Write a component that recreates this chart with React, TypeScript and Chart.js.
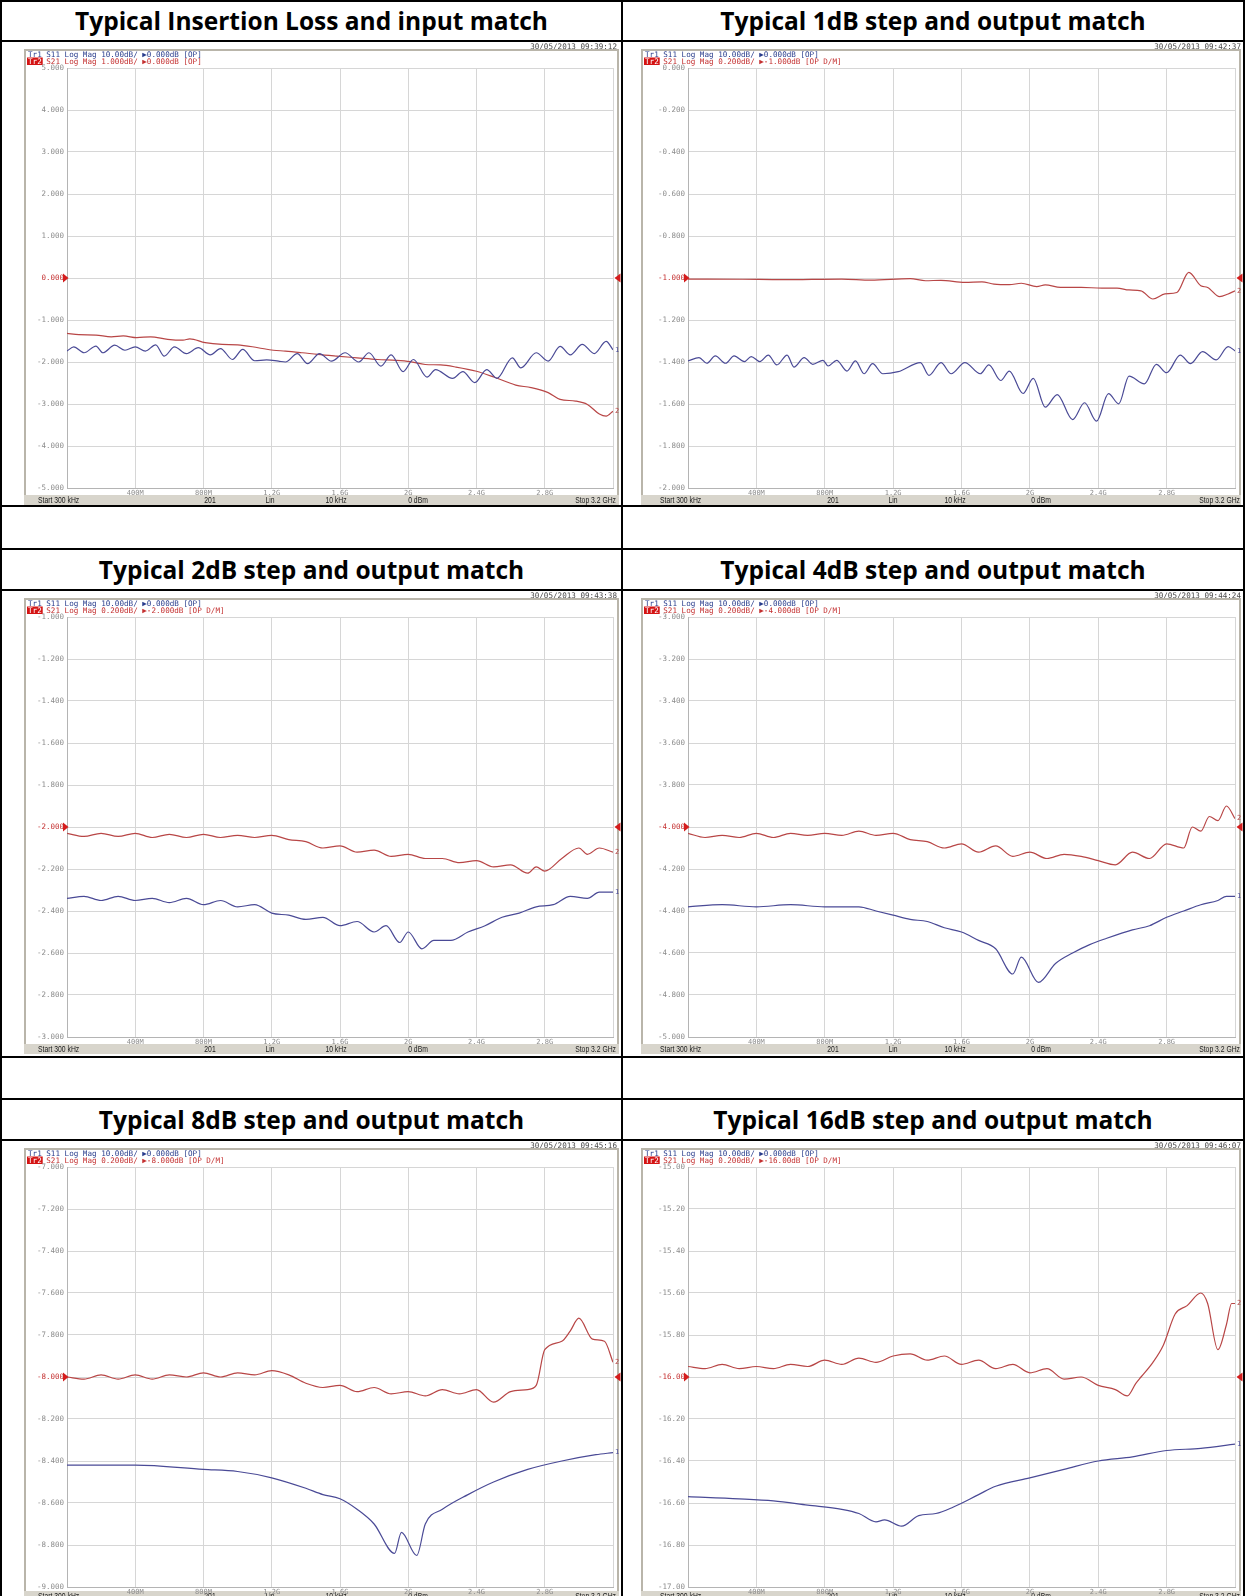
import React, { useEffect, useRef } from "react";
import { Chart, registerables } from "chart.js";

Chart.register(...registerables);

// ---------------- shared axis / text data ----------------
const START_GHZ = 0.0003;
const STOP_GHZ = 3.2;
const xTickLabels = ["", "400M", "800M", "1.2G", "1.6G", "2G", "2.4G", "2.8G", ""];
const statusLabels = ["Start 300 kHz", "201", "Lin", "10 kHz", "0 dBm", "Stop 3.2 GHz"];
const titles = [
  "Typical Insertion Loss and input match",
  "Typical 1dB step and output match",
  "Typical 2dB step and output match",
  "Typical 4dB step and output match",
  "Typical 8dB step and output match",
  "Typical 16dB step and output match",
];
const stamps = [
  "30/05/2013 09:39:12",
  "30/05/2013 09:42:37",
  "30/05/2013 09:43:38",
  "30/05/2013 09:44:24",
  "30/05/2013 09:45:16",
  "30/05/2013 09:46:07",
];
const tr1Header = "S11 Log Mag 10.00dB/ \u25B60.000dB [OP]";
const tr2Headers = [
  "S21 Log Mag 1.000dB/ \u25B60.000dB [OP]",
  "S21 Log Mag 0.200dB/ \u25B6-1.000dB [OP D/M]",
  "S21 Log Mag 0.200dB/ \u25B6-2.000dB [OP D/M]",
  "S21 Log Mag 0.200dB/ \u25B6-4.000dB [OP D/M]",
  "S21 Log Mag 0.200dB/ \u25B6-8.000dB [OP D/M]",
  "S21 Log Mag 0.200dB/ \u25B6-16.00dB [OP D/M]",
];
const refLevels = [0, -1, -2, -4, -8, -16];

const il_yLabels = ["5.000", "4.000", "3.000", "2.000", "1.000", "0.000", "-1.000", "-2.000", "-3.000", "-4.000", "-5.000"];
const s1_yLabels = ["0.000", "-0.200", "-0.400", "-0.600", "-0.800", "-1.000", "-1.200", "-1.400", "-1.600", "-1.800", "-2.000"];
const s2_yLabels = ["-1.000", "-1.200", "-1.400", "-1.600", "-1.800", "-2.000", "-2.200", "-2.400", "-2.600", "-2.800", "-3.000"];
const s4_yLabels = ["-3.000", "-3.200", "-3.400", "-3.600", "-3.800", "-4.000", "-4.200", "-4.400", "-4.600", "-4.800", "-5.000"];
const s8_yLabels = ["-7.000", "-7.200", "-7.400", "-7.600", "-7.800", "-8.000", "-8.200", "-8.400", "-8.600", "-8.800", "-9.000"];
const s16_yLabels = ["-15.00", "-15.20", "-15.40", "-15.60", "-15.80", "-16.00", "-16.20", "-16.40", "-16.60", "-16.80", "-17.00"];

// ---------------- trace data (GHz, dB) ----------------
const il_s11_f = [0.0003, 0.04, 0.10, 0.17, 0.21, 0.28, 0.34, 0.40, 0.46, 0.52, 0.57, 0.63, 0.70, 0.77, 0.84, 0.90, 0.97, 1.03, 1.10, 1.17, 1.24, 1.28, 1.35, 1.41, 1.48, 1.55, 1.63, 1.71, 1.77, 1.84, 1.90, 1.97, 2.03, 2.11, 2.16, 2.26, 2.32, 2.39, 2.46, 2.52, 2.61, 2.66, 2.75, 2.82, 2.89, 2.95, 3.02, 3.09, 3.16, 3.2];
const il_s11_db = [-1.74, -1.64, -1.78, -1.62, -1.78, -1.60, -1.72, -1.64, -1.74, -1.59, -1.86, -1.64, -1.80, -1.66, -1.83, -1.68, -1.94, -1.70, -1.97, -1.95, -1.98, -2.00, -1.80, -2.04, -1.80, -1.98, -1.78, -2.00, -1.78, -2.10, -1.83, -2.23, -1.94, -2.36, -2.18, -2.39, -2.23, -2.49, -2.18, -2.39, -1.90, -2.14, -1.78, -1.98, -1.63, -1.83, -1.58, -1.80, -1.51, -1.71];
const il_s21_f = [0.0003, 0.07, 0.17, 0.26, 0.33, 0.41, 0.49, 0.59, 0.68, 0.72, 0.81, 0.91, 1.00, 1.12, 1.21, 1.28, 1.38, 1.47, 1.58, 1.70, 1.82, 1.93, 2.01, 2.10, 2.19, 2.28, 2.40, 2.51, 2.63, 2.72, 2.82, 2.89, 2.98, 3.05, 3.12, 3.16, 3.2];
const il_s21_db = [-1.32, -1.35, -1.36, -1.40, -1.38, -1.42, -1.40, -1.46, -1.48, -1.45, -1.54, -1.58, -1.59, -1.66, -1.72, -1.74, -1.78, -1.82, -1.86, -1.90, -1.94, -1.96, -1.99, -2.06, -2.07, -2.12, -2.22, -2.37, -2.55, -2.61, -2.73, -2.89, -2.93, -3.01, -3.24, -3.29, -3.17];

const s1_s11_f = [0.0003, 0.065, 0.11, 0.16, 0.22, 0.27, 0.33, 0.37, 0.42, 0.47, 0.52, 0.58, 0.62, 0.68, 0.73, 0.79, 0.82, 0.87, 0.93, 0.98, 1.03, 1.08, 1.14, 1.23, 1.36, 1.41, 1.48, 1.54, 1.62, 1.71, 1.76, 1.83, 1.88, 1.96, 2.02, 2.09, 2.16, 2.25, 2.32, 2.39, 2.46, 2.52, 2.58, 2.67, 2.74, 2.80, 2.88, 2.94, 3.01, 3.09, 3.16, 3.2];
const s1_s11_db = [-1.395, -1.379, -1.406, -1.371, -1.406, -1.371, -1.398, -1.374, -1.398, -1.367, -1.414, -1.367, -1.424, -1.379, -1.411, -1.392, -1.419, -1.392, -1.443, -1.395, -1.456, -1.408, -1.456, -1.446, -1.403, -1.464, -1.403, -1.456, -1.403, -1.456, -1.414, -1.488, -1.443, -1.550, -1.478, -1.615, -1.555, -1.674, -1.594, -1.682, -1.551, -1.599, -1.467, -1.504, -1.411, -1.451, -1.367, -1.408, -1.351, -1.390, -1.327, -1.347];
const s1_s21_f = [0.0003, 0.32, 0.55, 0.90, 1.07, 1.30, 1.39, 1.48, 1.62, 1.72, 1.79, 1.88, 1.95, 2.04, 2.09, 2.18, 2.30, 2.42, 2.51, 2.58, 2.65, 2.72, 2.79, 2.86, 2.93, 3.00, 3.04, 3.11, 3.16, 3.2];
const s1_s21_db = [-1.005, -1.006, -1.008, -1.005, -1.010, -1.003, -1.013, -1.011, -1.021, -1.018, -1.029, -1.032, -1.025, -1.041, -1.033, -1.045, -1.045, -1.048, -1.048, -1.057, -1.061, -1.100, -1.076, -1.069, -0.973, -1.037, -1.045, -1.089, -1.076, -1.061];

const s2_s11_f = [0.0003, 0.1, 0.2, 0.3, 0.4, 0.5, 0.6, 0.7, 0.8, 0.9, 1.0, 1.1, 1.2, 1.3, 1.4, 1.5, 1.6, 1.7, 1.8, 1.87, 1.95, 2.0, 2.08, 2.15, 2.25, 2.35, 2.45, 2.55, 2.65, 2.75, 2.85, 2.95, 3.05, 3.12, 3.2];
const s2_s11_db = [-2.34, -2.33, -2.35, -2.33, -2.35, -2.34, -2.36, -2.34, -2.37, -2.35, -2.38, -2.37, -2.41, -2.42, -2.44, -2.43, -2.47, -2.45, -2.50, -2.47, -2.55, -2.50, -2.58, -2.54, -2.54, -2.50, -2.47, -2.43, -2.41, -2.38, -2.37, -2.33, -2.34, -2.31, -2.31];
const s2_s21_f = [0.0003, 0.1, 0.2, 0.3, 0.4, 0.5, 0.6, 0.7, 0.8, 0.9, 1.0, 1.1, 1.2, 1.3, 1.4, 1.5, 1.6, 1.7, 1.8, 1.9, 2.0, 2.1, 2.2, 2.3, 2.4, 2.5, 2.6, 2.7, 2.75, 2.8, 2.9, 3.0, 3.05, 3.12, 3.2];
const s2_s21_db = [-2.03, -2.045, -2.03, -2.045, -2.03, -2.05, -2.035, -2.05, -2.035, -2.05, -2.04, -2.05, -2.04, -2.06, -2.07, -2.10, -2.09, -2.12, -2.11, -2.14, -2.13, -2.15, -2.15, -2.17, -2.16, -2.19, -2.18, -2.22, -2.19, -2.21, -2.15, -2.10, -2.13, -2.10, -2.12];

const s4_s11_f = [0.0003, 0.2, 0.4, 0.6, 0.8, 1.0, 1.1, 1.2, 1.3, 1.4, 1.5, 1.6, 1.7, 1.8, 1.9, 1.95, 2.05, 2.15, 2.25, 2.35, 2.45, 2.6, 2.7, 2.8, 2.9, 3.0, 3.1, 3.15, 3.2];
const s4_s11_db = [-4.38, -4.37, -4.38, -4.37, -4.38, -4.38, -4.40, -4.42, -4.44, -4.45, -4.48, -4.50, -4.54, -4.58, -4.70, -4.62, -4.74, -4.65, -4.60, -4.56, -4.53, -4.49, -4.47, -4.43, -4.40, -4.37, -4.35, -4.33, -4.33];
const s4_s21_f = [0.0003, 0.1, 0.2, 0.3, 0.4, 0.5, 0.6, 0.7, 0.8, 0.9, 1.0, 1.1, 1.2, 1.3, 1.4, 1.5, 1.6, 1.7, 1.8, 1.9, 2.0, 2.1, 2.2, 2.3, 2.4, 2.5, 2.6, 2.7, 2.8, 2.9, 2.95, 3.0, 3.05, 3.1, 3.15, 3.2];
const s4_s21_db = [-4.03, -4.05, -4.04, -4.05, -4.03, -4.05, -4.03, -4.04, -4.03, -4.04, -4.02, -4.04, -4.03, -4.06, -4.07, -4.10, -4.08, -4.12, -4.09, -4.14, -4.12, -4.15, -4.13, -4.14, -4.16, -4.18, -4.12, -4.15, -4.08, -4.10, -4.00, -4.02, -3.95, -3.97, -3.90, -3.96];

const s8_s11_f = [0.0003, 0.4, 0.8, 1.0, 1.2, 1.4, 1.5, 1.6, 1.7, 1.8, 1.92, 1.96, 2.05, 2.1, 2.2, 2.35, 2.5, 2.7, 2.9, 3.1, 3.2];
const s8_s11_db = [-8.42, -8.42, -8.44, -8.45, -8.48, -8.53, -8.56, -8.58, -8.63, -8.70, -8.84, -8.74, -8.85, -8.70, -8.63, -8.56, -8.50, -8.44, -8.40, -8.37, -8.36];
const s8_s21_f = [0.0003, 0.1, 0.2, 0.3, 0.4, 0.5, 0.6, 0.7, 0.8, 0.9, 1.0, 1.1, 1.2, 1.3, 1.4, 1.5, 1.6, 1.7, 1.8, 1.9, 2.0, 2.1, 2.2, 2.3, 2.4, 2.5, 2.6, 2.7, 2.75, 2.8, 2.9, 2.95, 3.0, 3.08, 3.15, 3.2];
const s8_s21_db = [-8.00, -8.01, -7.99, -8.01, -7.99, -8.01, -7.99, -8.00, -7.98, -8.00, -7.98, -7.99, -7.97, -7.99, -8.03, -8.05, -8.04, -8.07, -8.05, -8.08, -8.07, -8.09, -8.06, -8.08, -8.06, -8.12, -8.07, -8.06, -8.04, -7.87, -7.83, -7.78, -7.72, -7.82, -7.83, -7.93];

const s16_s11_f = [0.0003, 0.3, 0.5, 0.7, 0.9, 1.0, 1.1, 1.15, 1.25, 1.35, 1.45, 1.55, 1.7, 1.8, 2.0, 2.2, 2.4, 2.6, 2.8, 3.0, 3.2];
const s16_s11_db = [-16.57, -16.58, -16.59, -16.61, -16.63, -16.65, -16.69, -16.68, -16.71, -16.66, -16.65, -16.62, -16.56, -16.52, -16.48, -16.44, -16.40, -16.38, -16.35, -16.34, -16.32];
const s16_s21_f = [0.0003, 0.1, 0.2, 0.3, 0.4, 0.5, 0.6, 0.7, 0.8, 0.9, 1.0, 1.1, 1.2, 1.3, 1.4, 1.5, 1.6, 1.7, 1.8, 1.9, 2.0, 2.1, 2.2, 2.3, 2.4, 2.5, 2.57, 2.62, 2.65, 2.72, 2.78, 2.85, 2.92, 3.0, 3.04, 3.1, 3.15, 3.18, 3.2];
const s16_s21_db = [-15.95, -15.96, -15.94, -15.96, -15.95, -15.96, -15.94, -15.95, -15.92, -15.94, -15.91, -15.93, -15.90, -15.89, -15.92, -15.90, -15.94, -15.92, -15.96, -15.94, -15.98, -15.96, -16.01, -16.00, -16.04, -16.06, -16.09, -16.03, -16.00, -15.93, -15.85, -15.70, -15.66, -15.60, -15.65, -15.87, -15.75, -15.65, -15.65];

// ---------------- styling / layout ----------------
const BLUE = "#4a4a96";
const RED = "#b84646";
const HEAD_BLUE = "#283c8c";
const HEAD_RED = "#c43030";
const MARK_RED = "#d41c1c";
const TICK_GRAY = "#8c8c8c";
const GRID = "#d6d6d6";
const FRAME = "#b9b5aa";
const STATUS_BG = "#d8d5cc";
const MONO = '"DejaVu Sans Mono"';

const VLINES = [0, 621, 1243];
const HLINES = [0, 40, 505, 548, 589, 1056, 1098, 1139];
const LINE_W = 2;
const COLS = [
  { x: 2, w: 619 },
  { x: 623, w: 620 },
];
const TITLE_ROWS = [
  { y: 2, h: 38 },
  { y: 550, h: 39 },
  { y: 1100, h: 39 },
];
const CHART_ROWS = [42, 591, 1141];
const STATUS_TOPS = [453, 453, 450];
const CHART_H = 464;

const COLGEOM = [
  { frameL: 23, frameR: 616, plotL: 65, plotR: 611, stampR: 615, headX: 26, status: [36, 208, 268, 334, 416, 614] },
  { frameL: 19, frameR: 617, plotL: 65, plotR: 612, stampR: 618, headX: 22, status: [37, 210, 270, 332, 418, 617] },
];
const PLOT_T = 26;
const PLOT_B = 446;
const FRAME_T = 8;
const STATUS_HGT = 10;

type PanelCfg = {
  idx: number;
  yLabels: string[];
  s11f: number[];
  s11db: number[];
  s21f: number[];
  s21db: number[];
};

const panelCfgs: PanelCfg[] = [
  { idx: 0, yLabels: il_yLabels, s11f: il_s11_f, s11db: il_s11_db, s21f: il_s21_f, s21db: il_s21_db },
  { idx: 1, yLabels: s1_yLabels, s11f: s1_s11_f, s11db: s1_s11_db, s21f: s1_s21_f, s21db: s1_s21_db },
  { idx: 2, yLabels: s2_yLabels, s11f: s2_s11_f, s11db: s2_s11_db, s21f: s2_s21_f, s21db: s2_s21_db },
  { idx: 3, yLabels: s4_yLabels, s11f: s4_s11_f, s11db: s4_s11_db, s21f: s4_s21_f, s21db: s4_s21_db },
  { idx: 4, yLabels: s8_yLabels, s11f: s8_s11_f, s11db: s8_s11_db, s21f: s8_s21_f, s21db: s8_s21_db },
  { idx: 5, yLabels: s16_yLabels, s11f: s16_s11_f, s11db: s16_s11_db, s21f: s16_s21_f, s21db: s16_s21_db },
];

function drawCondensed(ctx: CanvasRenderingContext2D, text: string, x: number, y: number, align: "left" | "center" | "right", sx: number) {
  ctx.save();
  ctx.translate(x, y);
  ctx.scale(sx, 1);
  ctx.textAlign = align;
  ctx.fillText(text, 0, 0);
  ctx.restore();
}

function Panel({ cfg }: { cfg: PanelCfg }) {
  const ref = useRef<HTMLCanvasElement>(null);
  const col = cfg.idx % 2;
  const row = Math.floor(cfg.idx / 2);
  const W = COLS[col].w;
  const H = CHART_H;
  const g = COLGEOM[col];
  const STATUS_T = STATUS_TOPS[row];
  const STATUS_B = STATUS_T + STATUS_HGT;

  useEffect(() => {
    const canvas = ref.current!;
    const yVals = cfg.yLabels.map((s) => parseFloat(s));
    const yMax = Math.max(...yVals);
    const yMin = Math.min(...yVals);
    const refLevel = refLevels[cfg.idx];

    const plugin = {
      id: "analyzerDecor" + cfg.idx,
      beforeDraw(chart: any) {
        const ctx: CanvasRenderingContext2D = chart.ctx;
        ctx.save();
        ctx.fillStyle = "#ffffff";
        ctx.fillRect(0, 0, W, H);
        // timestamp
        ctx.font = `7.6px ${MONO}`;
        ctx.fillStyle = "#4a4a4a";
        ctx.textAlign = "right";
        ctx.textBaseline = "alphabetic";
        ctx.fillText(stamps[cfg.idx], g.stampR, 6.5);
        // window frame
        ctx.strokeStyle = FRAME;
        ctx.lineWidth = 2;
        ctx.beginPath();
        ctx.moveTo(g.frameL, STATUS_T);
        ctx.lineTo(g.frameL, FRAME_T);
        ctx.lineTo(g.frameR, FRAME_T);
        ctx.lineTo(g.frameR, STATUS_T);
        ctx.stroke();
        // header lines
        ctx.textAlign = "left";
        ctx.font = `7.6px ${MONO}`;
        ctx.fillStyle = HEAD_BLUE;
        ctx.fillText("Tr1 " + tr1Header, g.headX, 14.5);
        const w = ctx.measureText("Tr2").width;
        ctx.fillStyle = "#d41414";
        ctx.fillRect(g.headX - 1, 15.5, w + 2, 7.5);
        ctx.fillStyle = "#ffffff";
        ctx.fillText("Tr2", g.headX, 21.5);
        ctx.fillStyle = HEAD_RED;
        ctx.fillText(" " + tr2Headers[cfg.idx], g.headX + w, 21.5);
        // status bar
        ctx.fillStyle = STATUS_BG;
        ctx.fillRect(g.frameL - 1, STATUS_T, g.frameR - g.frameL + 2, STATUS_B - STATUS_T);
        ctx.fillStyle = "#1a1a1a";
        ctx.font = '8.5px "Liberation Sans"';
        const aligns: ("left" | "center" | "right")[] = ["left", "center", "center", "center", "center", "right"];
        statusLabels.forEach((t, i) => drawCondensed(ctx, t, g.status[i], STATUS_B - 2, aligns[i], 0.8));
        ctx.restore();
      },
      afterDatasetsDraw(chart: any) {
        const ctx: CanvasRenderingContext2D = chart.ctx;
        const ys = chart.scales.y;
        const area = chart.chartArea;
        ctx.save();
        const yr = ys.getPixelForValue(refLevel);
        ctx.fillStyle = MARK_RED;
        ctx.beginPath();
        ctx.moveTo(area.left - 4, yr - 4.5);
        ctx.lineTo(area.left + 1.5, yr);
        ctx.lineTo(area.left - 4, yr + 4.5);
        ctx.closePath();
        ctx.fill();
        ctx.beginPath();
        ctx.moveTo(area.right + 7.5, yr - 4.5);
        ctx.lineTo(area.right + 1.5, yr);
        ctx.lineTo(area.right + 7.5, yr + 4.5);
        ctx.closePath();
        ctx.fill();
        ctx.font = `7px ${MONO}`;
        ctx.textAlign = "left";
        ctx.textBaseline = "middle";
        ctx.fillStyle = BLUE;
        ctx.fillText("1", area.right + 2, ys.getPixelForValue(cfg.s11db[cfg.s11db.length - 1]));
        ctx.fillStyle = RED;
        ctx.fillText("2", area.right + 2, ys.getPixelForValue(cfg.s21db[cfg.s21db.length - 1]));
        ctx.restore();
      },
    };

    const chart = new Chart(canvas, {
      type: "line",
      data: {
        datasets: [
          {
            label: "S11",
            data: cfg.s11f.map((f, i) => ({ x: f, y: cfg.s11db[i] })),
            borderColor: BLUE,
            borderWidth: 1.2,
            pointRadius: 0,
            cubicInterpolationMode: "monotone",
            fill: false,
          },
          {
            label: "S21",
            data: cfg.s21f.map((f, i) => ({ x: f, y: cfg.s21db[i] })),
            borderColor: RED,
            borderWidth: 1.2,
            pointRadius: 0,
            cubicInterpolationMode: "monotone",
            fill: false,
          },
        ],
      },
      options: {
        animation: false,
        responsive: false,
        devicePixelRatio: 1,
        events: [],
        layout: {
          padding: { left: g.plotL - 40, right: W - g.plotR, top: PLOT_T, bottom: H - PLOT_B - 10 },
        },
        plugins: { legend: { display: false }, tooltip: { enabled: false }, title: { display: false } },
        scales: {
          x: {
            type: "linear",
            min: START_GHZ,
            max: STOP_GHZ,
            afterBuildTicks: (s: any) => {
              s.ticks = xTickLabels.map((_, i) => ({ value: START_GHZ + (i * (STOP_GHZ - START_GHZ)) / 8 }));
            },
            afterFit: (s: any) => {
              s.height = 10;
            },
            ticks: {
              autoSkip: false,
              maxRotation: 0,
              minRotation: 0,
              padding: 1,
              color: TICK_GRAY,
              font: { family: "DejaVu Sans Mono", size: 7 },
              callback: (_v: any, i: number) => xTickLabels[i],
            },
            grid: { color: GRID, lineWidth: 1, drawTicks: false },
            border: { color: "#b4b4b4", width: 1 },
          },
          y: {
            type: "linear",
            min: yMin,
            max: yMax,
            afterBuildTicks: (s: any) => {
              s.ticks = yVals.map((v) => ({ value: v }));
            },
            afterFit: (s: any) => {
              s.width = 40;
            },
            ticks: {
              padding: 3,
              color: (c: any) => (c.tick && Math.abs(c.tick.value - refLevel) < 1e-9 ? HEAD_RED : TICK_GRAY),
              font: { family: "DejaVu Sans Mono", size: 7.5 },
              callback: (_v: any, i: number) => cfg.yLabels[i],
            },
            grid: { color: GRID, lineWidth: 1, drawTicks: false },
            border: { color: "#b4b4b4", width: 1 },
          },
        },
      },
      plugins: [plugin],
    } as any);
    return () => chart.destroy();
  }, []);

  return (
    <canvas
      ref={ref}
      width={W}
      height={H}
      style={{ position: "absolute", left: COLS[col].x, top: CHART_ROWS[row], width: W, height: H, display: "block" }}
    />
  );
}

export default function App() {
  return (
    <div style={{ position: "absolute", left: 0, top: 0, width: 1245, height: 1596, overflow: "hidden", background: "#ffffff" }}>
      {panelCfgs.map((c) => (
        <Panel key={c.idx} cfg={c} />
      ))}
      {titles.map((t, i) => {
        const col = i % 2;
        const row = TITLE_ROWS[Math.floor(i / 2)];
        return (
          <div
            key={"t" + i}
            style={{
              position: "absolute",
              left: COLS[col].x,
              top: row.y,
              width: COLS[col].w,
              height: row.h,
              lineHeight: row.h + "px",
              textAlign: "center",
              fontFamily: '"Open Sans", sans-serif',
              fontWeight: 700,
              fontSize: 24.5,
              color: "#000",
              whiteSpace: "nowrap",
            }}
          >
            {t}
          </div>
        );
      })}
      {VLINES.map((x, i) => (
        <div key={"v" + i} style={{ position: "absolute", left: x, top: 0, width: LINE_W, height: 1596, background: "#000" }} />
      ))}
      {HLINES.map((y, i) => (
        <div key={"h" + i} style={{ position: "absolute", left: 0, top: y, width: 1245, height: LINE_W, background: "#000" }} />
      ))}
    </div>
  );
}
